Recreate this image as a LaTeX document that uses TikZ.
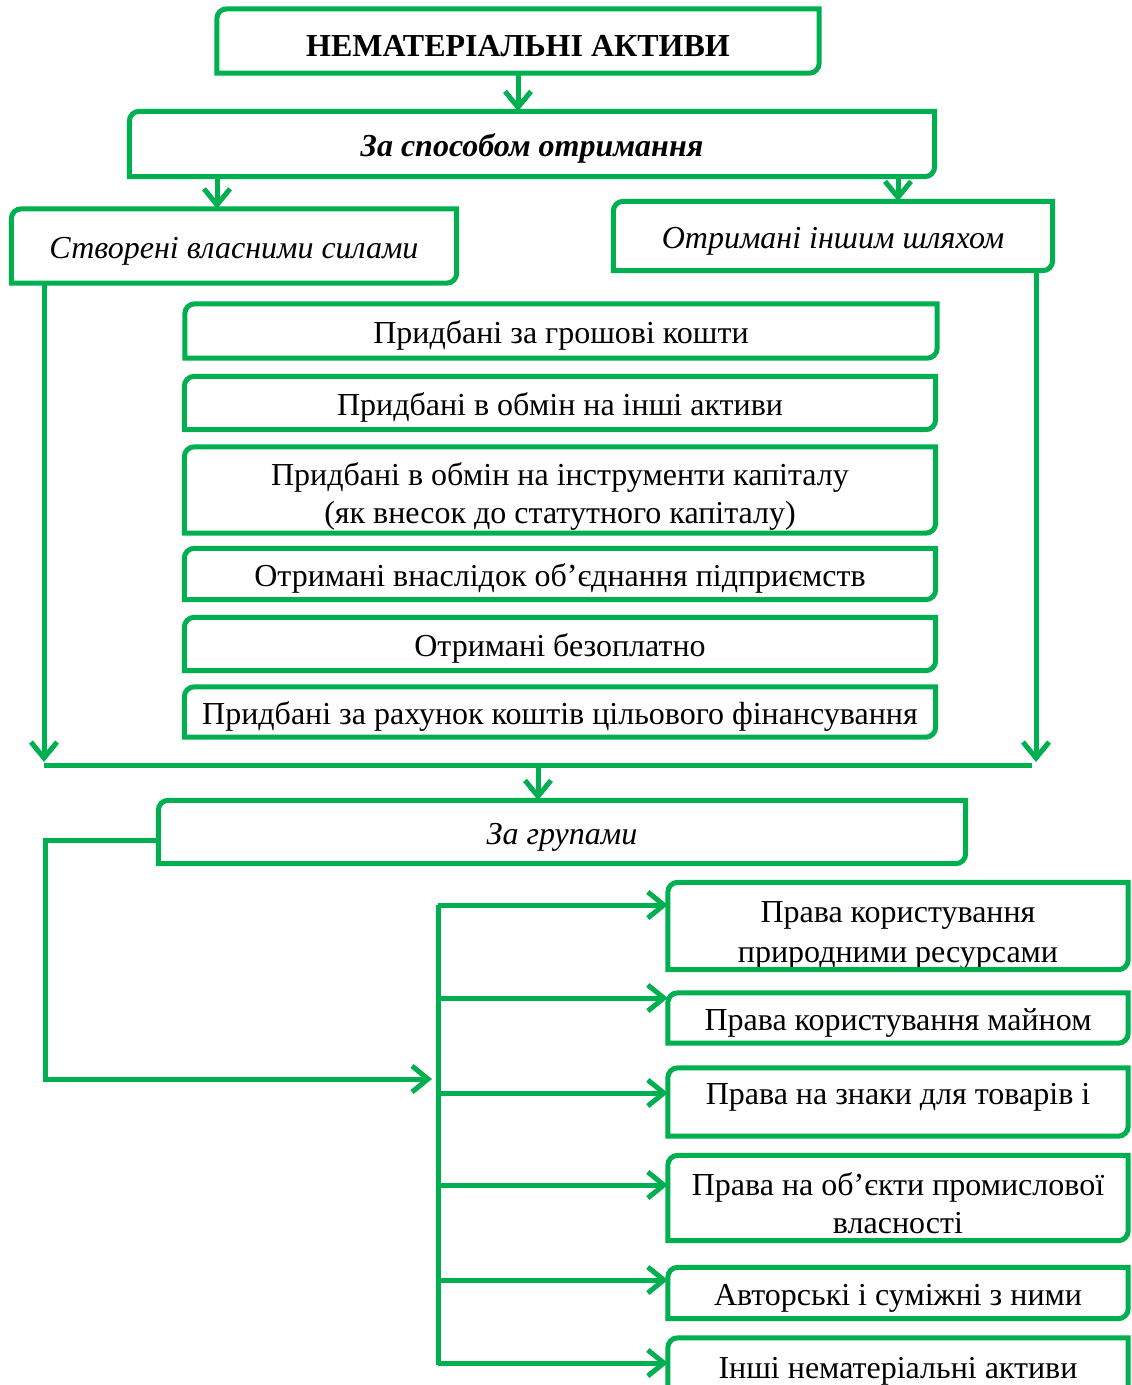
\documentclass[tikz,border=0pt]{standalone}
\usepackage{fontspec}
\setmainfont{Liberation Serif}
\usetikzlibrary{arrows.meta}
\definecolor{grn}{HTML}{00B050}
\tikzset{
  frame/.style={draw=grn,line width=5pt},
  conn/.style={draw=grn,line width=5pt},
  arr/.style={conn,-{Straight Barb[length=16pt,width=26pt]}},
  box/.style 2 args={inner sep=0pt,minimum width=#1,minimum height=#2,
      align=center,font=\fontsize{32}{38}\selectfont,
      execute at begin node={\rule{0pt}{32pt}}}
}
% frame with two rounded corners (top left, bottom right)
\newcommand{\greenframe}[1]{%
  \draw[frame] (#1.south west) -- ([yshift=-10pt]#1.north west)
    arc[start angle=180,end angle=90,radius=10pt] -- (#1.north east)
    -- ([yshift=10pt]#1.south east)
    arc[start angle=0,end angle=-90,radius=10pt] -- cycle;}
\begin{document}
\begin{tikzpicture}[x=1pt,y=-1pt]
    \useasboundingbox (0,0) rectangle (1132,1385);

    \node[box={602pt}{64pt},font=\fontsize{32}{38}\selectfont\bfseries] (title) at (518,41) {НЕМАТЕРІАЛЬНІ АКТИВИ};
    \node[box={805pt}{65pt},font=\fontsize{32}{38}\selectfont\bfseries\itshape] (way) at (532,144) {За способом отримання};
    \node[box={445pt}{74pt},font=\fontsize{32}{38}\selectfont\itshape] (own) at (234,246) {Створені власними силами};
    \node[box={439pt}{69pt},font=\fontsize{32}{38}\selectfont\itshape] (other) at (833,236) {Отримані іншим шляхом};

    \node[box={752pt}{54pt}] (m1) at (561,331) {Придбані за грошові кошти};
    \node[box={751pt}{53pt}] (m2) at (560,403) {Придбані в обмін на інші активи};
    \node[box={751pt}{86pt}] (m3) at (560,490) {\rule{0pt}{35pt}Придбані в обмін на інструменти капіталу\\(як внесок до статутного капіталу)};
    \node[box={751pt}{51pt}] (m4) at (560,574) {Отримані внаслідок об’єднання підприємств};
    \node[box={751pt}{53pt}] (m5) at (560,644) {Отримані безоплатно};
    \node[box={751pt}{50pt}] (m6) at (560,712) {Придбані за рахунок коштів цільового фінансування};

    \node[box={807pt}{63pt},font=\fontsize{32}{38}\selectfont\itshape] (groups) at (562,832) {За групами};

    \node[box={460pt}{87pt}] (r1) at (898,926) {\rule{0pt}{40pt}Права користування\\[2pt]природними ресурсами};
    \node[box={460pt}{50pt}] (r2) at (898,1018) {Права користування майном};
    \node[box={460pt}{68pt},text depth=27pt] (r3) at (898,1102) {Права на знаки для товарів і};
    \node[box={460pt}{85pt}] (r4) at (898,1198) {\rule{0pt}{34pt}Права на об’єкти промислової\\власності};
    \node[box={460pt}{51pt}] (r5) at (898,1293) {Авторські і суміжні з ними};
    \node[box={460pt}{56pt}] (r6) at (898,1366) {Інші нематеріальні активи};

    \coordinate (cl) at (217,0);
    \coordinate (cr) at (898,0);
    \coordinate (vl) at (44,762);
    \coordinate (vr) at (1036,762);
    \coordinate (hl) at (44,765);
    \coordinate (hr) at (1032,765);
    \coordinate (hm) at (538,765);
    \coordinate (lc) at (45,1079);
    \coordinate (busin) at (432,1079);
    \coordinate (busT) at (438,905);
    \coordinate (busB) at (438,1365);

    \path[arr] (title.south) -- (title.south |- way.north);
    \path[arr] (way.south -| cl) -- (own.north -| cl);
    \path[arr] (way.south -| cr) -- (other.north -| cr);
    \path[arr] (own.south -| vl) -- (vl);
    \path[arr] (other.south -| vr) -- (vr);
    \path[conn] (hl) -- (hr);
    \path[arr] (hm) -- (hm |- groups.north);
    \path[arr] ([yshift=-8pt]groups.west) -| (lc) -- (busin);
    \path[conn] (busT) -- (busB);
    \foreach \r/\y in {r1/905,r2/998,r3/1093,r4/1185,r5/1280,r6/1363}
        \path[arr] (busT |- 0,\y) -- (\r.west |- 0,\y);

    \foreach \n in {title,way,own,other,m1,m2,m3,m4,m5,m6,groups,r1,r2,r3,r4,r5,r6}
        \greenframe{\n};
\end{tikzpicture}
\end{document}
